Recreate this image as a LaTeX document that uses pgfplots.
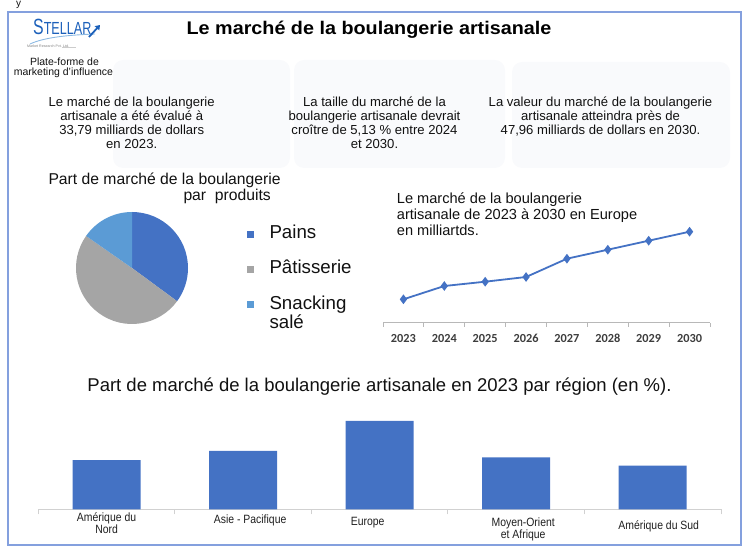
\documentclass[border=0pt]{standalone}
\usepackage{fontspec}
\setmainfont{Liberation Sans}
\newfontfamily\narrowfont[FakeStretch=0.87]{Liberation Sans}
\newfontfamily\titlefont[FakeStretch=1.08]{Liberation Sans}
\newfontfamily\logofont[FakeStretch=0.72]{Liberation Sans}
\newfontfamily\carlito{Carlito}
\usepackage{pgfplots}
\pgfplotsset{compat=1.18}
\usetikzlibrary{arrows.meta}
\definecolor{barblue}{HTML}{4472C4}
\definecolor{piegray}{HTML}{A5A5A5}
\definecolor{pielight}{HTML}{5B9BD5}
\definecolor{bordercol}{RGB}{132,160,222}
\definecolor{boxfill}{HTML}{F9FAFC}
\definecolor{logoblue}{RGB}{28,96,186}
\definecolor{txt}{HTML}{111111}
\newcommand\fs[1]{\fontsize{#1}{#1}\selectfont}
\newcommand\lab[3]{\makebox[0pt][c]{\hspace*{#1}\hspace*{#1}\raisebox{-#2}{\begin{tabular}[t]{@{}c@{}}#3\end{tabular}}}}
\begin{document}
\begin{tikzpicture}
\path[use as bounding box] (0,0) rectangle (750pt,554pt);
% pie shares (%)
\pgfmathsetmacro\aA{90}
\pgfmathsetmacro\aB{\aA-35.1*3.6}
\pgfmathsetmacro\aC{\aB-49.6*3.6}
\pgfmathsetmacro\aD{\aC-15.3*3.6}
\begin{scope}[x=1pt,y=-1pt,yshift=554pt]
 \fill[boxfill, rounded corners=10pt] (113,60) rectangle (290,168);
 \fill[boxfill, rounded corners=10pt] (294,60) rectangle (505,168);
 \fill[boxfill, rounded corners=10pt] (512,62) rectangle (730,168);
 \node[anchor=base west, inner sep=0, text=txt] at (16,7) {\fs{10}y};
 % logo
 \draw[pielight!70, line width=0.9pt] (30,44) .. controls (45,37) and (70,35) .. (95,34);
 \node[anchor=base west, inner sep=0, text=logoblue] at (33,35) {\logofont\fs{22}S\fs{17.5}TELLAR};
 \draw[logoblue, line width=1.8pt, -{Triangle[length=4.5pt,width=6pt]}] (89,37) -- (100,25);
 \node[anchor=base west, inner sep=0, text=gray] at (27,48) {\fs{3.6}Market Research Pvt. Ltd.};
 \draw[gray!40, line width=0.6pt] (62,47) -- (76,47);
 \node[anchor=base, inner sep=0, text=txt] at (64.5,65.5) {\fs{10.5}Plate-forme de};
 \node[anchor=base, inner sep=0, text=txt] at (63.5,75.5) {\fs{10.5}marketing d'influence};
 % title
 \node[anchor=base, inner sep=0, text=black] at (369,34.3) {\titlefont\bfseries\fs{18.3}Le marché de la boulangerie artisanale};
 % stats
 \foreach \t [count=\i] in {Le marché de la boulangerie, artisanale a été évalué à, {33,79 milliards de dollars}, en 2023.}
   \node[anchor=base, inner sep=0, text=txt] at (131.7,{106.7+14.1*(\i-1)}) {\fs{13.1}\t};
 \foreach \t [count=\i] in {La taille du marché de la, boulangerie artisanale devrait, {croître de 5,13 \% entre 2024}, et 2030.}
   \node[anchor=base, inner sep=0, text=txt] at (374.5,{106.7+14.1*(\i-1)}) {\fs{13.1}\t};
 \foreach \t [count=\i] in {La valeur du marché de la boulangerie, artisanale atteindra près de, {47,96 milliards de dollars en 2030.}}
   \node[anchor=base, inner sep=0, text=txt] at (600.5,{106.7+14.1*(\i-1)}) {\fs{13.1}\t};
 % pie title and legend
 \node[anchor=base west, inner sep=0, text=txt] at (48.3,184.5) {\fs{15.7}Part de marché de la boulangerie};
 \node[anchor=base west, inner sep=0, text=txt] at (183.3,200.3) {\fs{15.7}par\ \ produits};
 \fill[barblue] (247,231.5) rectangle (253.5,238);
 \fill[piegray] (247,266.5) rectangle (253.5,273);
 \fill[pielight] (247,301.5) rectangle (253.5,308);
 \node[anchor=base west, inner sep=0, text=txt] at (269.3,238.5) {\fs{18.7}Pains};
 \node[anchor=base west, inner sep=0, text=txt] at (269.3,273.5) {\fs{18.7}Pâtisserie};
 \node[anchor=base west, inner sep=0, text=txt] at (269.3,309.3) {\fs{18.7}Snacking};
 \node[anchor=base west, inner sep=0, text=txt] at (269.3,328.3) {\fs{18.7}salé};
 % line chart title
 \node[anchor=base west, inner sep=0, text=txt] at (396.7,204) {\fs{14.6}Le marché de la boulangerie};
 \node[anchor=base west, inner sep=0, text=txt] at (396.7,220) {\fs{14.6}artisanale de 2023 à 2030 en Europe};
 \node[anchor=base west, inner sep=0, text=txt] at (396.7,236) {\fs{14.6}en milliartds.};
 % bar chart title
 \node[anchor=base, inner sep=0, text=txt] at (379.5,392) {\fs{18.5}Part de marché de la boulangerie artisanale en 2023 par région (en \%).};
 \draw[bordercol, line width=2pt] (8,12) rectangle (741,545);
\end{scope}

% pie
\begin{axis}[at={(132pt,286pt)}, anchor=center, width=112pt, height=112pt, scale only axis,
  hide axis, xmin=-1, xmax=1, ymin=-1, ymax=1, clip=false]
 \fill[barblue] (axis cs:0,0) -- ++(\aA:56pt) arc[start angle=\aA, end angle=\aB, radius=56pt] -- cycle;
 \fill[piegray] (axis cs:0,0) -- ++(\aB:56pt) arc[start angle=\aB, end angle=\aC, radius=56pt] -- cycle;
 \fill[pielight] (axis cs:0,0) -- ++(\aC:56pt) arc[start angle=\aC, end angle=\aD, radius=56pt] -- cycle;
\end{axis}

% line chart
\begin{axis}[at={(383pt,231.3pt)}, anchor=south west, width=327pt, height=100pt, scale only axis,
  xmin=-0.5, xmax=7.5, ymin=0, ymax=10, clip=false,
  axis x line*=bottom, axis y line=none,
  axis line style={color=black!28, line width=0.9pt},
  xtick={0,...,7}, xticklabels={2023,2024,2025,2026,2027,2028,2029,2030},
  minor xtick={-0.5,0.5,...,7.5}, major tick length=0pt, minor tick length=4pt, tick align=outside,
  minor tick style={color=black!28, line width=0.8pt},
  xticklabel style={anchor=base, inner sep=0pt, yshift=-19.6pt, font=\carlito\bfseries\fs{12.3}, text=black!76}]
 \addplot[color=barblue, line width=1.8pt, mark=diamond*, mark size=3.4pt, mark options={solid, fill=barblue}]
  coordinates {(0,2.34) (1,3.67) (2,4.10) (3,4.57) (4,6.40) (5,7.30) (6,8.20) (7,9.10)};
\end{axis}

% bar chart
\begin{axis}[at={(38.3pt,44.5pt)}, anchor=south west, width=682.7pt, height=102.4pt, scale only axis,
  xmin=-0.5, xmax=4.5, ymin=0, ymax=35, clip=false,
  ybar, bar width=68pt, bar shift=0pt,
  axis x line*=bottom, axis y line=none,
  axis line style={color=black!18, line width=1pt},
  xtick={0,...,4},
  xticklabels={{\lab{0pt}{12.2pt}{Amérique du\\Nord}}, {\lab{7pt}{13.8pt}{Asie - Pacifique}}, {\lab{-12pt}{16.2pt}{Europe}}, {\lab{7pt}{17.2pt}{Moyen-Orient\\et Afrique}}, {\lab{6pt}{19.8pt}{Amérique du Sud}}},
  minor xtick={-0.5,0.5,...,4.5}, major tick length=0pt, minor tick length=5pt, tick align=outside,
  minor tick style={color=black!18, line width=0.9pt},
  xticklabel style={anchor=base, inner sep=0pt, font=\narrowfont\fontsize{12}{10}\selectfont, text=black!88}]
 \addplot[fill=barblue, draw=none] coordinates {(0,16.9) (1,20.0) (2,30.3) (3,17.8) (4,15.0)};
\end{axis}
\end{tikzpicture}
\end{document}
